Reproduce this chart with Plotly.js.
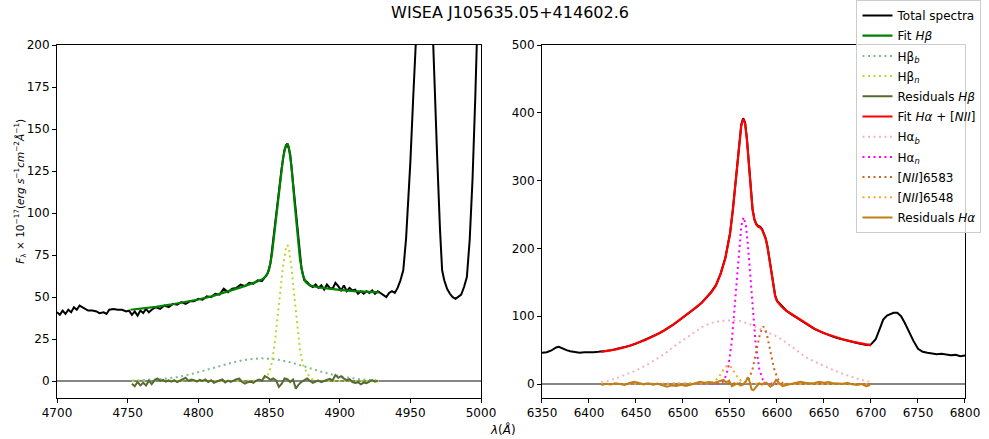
<!DOCTYPE html>
<html>
<head>
<meta charset="utf-8">
<script src="https://cdn.plot.ly/plotly-3.0.1.min.js"></script>
<style>html,body{margin:0;padding:0;background:#fff;}#chart{width:989px;height:439px;}</style>
</head>
<body>
<div id="chart"></div>
<script>
// ---------- Left panel (H-beta region) ----------
var specLx = [4700,4702,4704,4706,4708,4710,4712,4714,4716,4718,
 4720,4722,4725,4728,4730,4733,4735,4737,4740,4743,
 4746,4749,4751,4753,4755,4757,4759,4761,4763,4765,
 4767,4770,4773,4776,4779,4782,4785,4788,4791,4794,
 4797,4800,4803,4806,4809,4812,4815,4818,4821,4824,
 4827,4830,4833,4836,4839,4842,4845,4847,4849,4851,
 4853,4855,4857,4859,4861,4863,4865,4867,4869,4871,
 4873,4875,4877,4879,4881,4883,4885,4887,4889,4891,
 4893,4895,4897,4899,4901,4903,4905,4907,4909,4911,
 4913,4915,4917,4919,4921,4923,4925,4927,4929,4931,
 4933,4935,4937,4939,4941,4943,4945,4947,4948,4950,
 4952,4954,4956,4958,4960,4962,4964,4966,4967,4969,
 4971,4972.5,4974,4976,4978,4980,4982,4984,4986,4988,
 4990,4992,4994,4996,4998,5000];
var specLy = [41,39.5,42,40,42.5,41,44,42.5,45,44,
 43,42,42,41.5,40.5,41,40,42.5,43,42.5,
 42.5,41.5,42,39.5,41.5,39,42,40.5,43,41,
 42.5,44,43,45,44,46,45.5,47,46,47.5,
 47.5,49,48.5,50.5,50,52,51.5,55,53,55,
 55.5,57.5,56.5,58.5,58,60,59.5,61.5,64,70,
 84,99,114,127,138,141.5,135,118,97,80,
 67,60,59,57,56,57.5,55.5,57,54.5,57.5,
 55.5,55,58.5,56.5,54,57,53.5,55.5,54,54.5,
 52,53.5,52,53.5,52.5,54,52,53.5,52.5,51,
 50,52.5,53.5,52.5,55.5,60,66,85,100,130,
 168,200,245,290,310,300,262,205,178,133,
 90,66,60,55,52,50,49,50,51.5,56,
 62,84,120,170,230,290];

var fitHbX = [4752,4760,4770,4780,4790,4800,4810,4820,4830,4840,
 4845,4848,4850,4852,4854,4856,4858,4860,4862,4863,
 4864,4866,4868,4870,4872,4874,4876,4878,4880,4885,
 4890,4900,4910,4920,4928];
var fitHbY = [42.5,43.2,44.2,45.5,47,48.6,50.6,53,55.8,58.8,
 60.5,62.5,66,75,89,105,120,133,140.5,141,
 139.5,127,107,88,72,63,59,57.5,56.8,55.8,
 55.2,54.3,53.6,53.1,52.8];

var hbBroadX = [4753,4765,4775,4785,4795,4805,4815,4825,4835,4845,4855,4865,4875,4885,4895,4905,4915,4928];
var hbBroadY = [0.3,0.7,1.3,2.4,4.2,6.6,9,11.3,13,13.6,13,11.3,8.8,6.1,3.9,2.2,1.1,0.4];

var hbNarrowX = [4753,4840,4845,4848,4850,4852,4854,4856,4858,4860,
 4862,4863,4864,4866,4868,4870,4872,4874,4877,4880,
 4885,4928];
var hbNarrowY = [0,0.2,0.8,2.5,5,11,22,37,54,69,
 79,81,79.5,67,50,32,18,10,4.5,1.5,
 0.2,0];

var resHbX = [4753,4755,4757,4759,4761,4763,4765,4767,4769,4771,
 4773,4775,4777,4779,4781,4783,4785,4787,4789,4791,
 4793,4795,4797,4799,4801,4803,4805,4807,4809,4811,
 4813,4815,4817,4819,4821,4823,4825,4827,4829,4831,
 4833,4835,4837,4839,4841,4843,4845,4847,4849,4851,
 4853,4855,4857,4859,4861,4863,4865,4867,4869,4871,
 4873,4875,4877,4879,4881,4883,4885,4887,4889,4891,
 4893,4895,4897,4899,4901,4903,4905,4907,4909,4911,
 4913,4915,4917,4919,4921,4923,4925,4927];
var resHbY = [-1.5,-3,-0.5,-2.5,-1,-2.5,0.3,-1.8,0.5,1.6,
 0.2,0.8,-0.2,0.5,-0.3,0.6,-0.5,0.3,1,2,
 0.2,1,0.6,-0.3,0.8,0.2,1,-0.5,0.5,-1,
 -0.2,0.6,1,-0.8,0.3,-0.4,0.5,1.2,1.6,-0.5,
 -1.4,-0.6,-0.3,-1,0.4,1,0.3,3,2.2,0.8,
 1.6,0.5,-3.4,-1.5,1.6,1.2,-0.5,1,-4.4,-2,
 -0.4,0.5,1.6,0.3,-1,-0.2,0.4,-0.5,0.2,0.8,
 1.4,0.5,3.6,2,3,1.5,0.6,1.2,-0.5,-1,
 -0.6,-1.8,-0.8,-1.2,-0.4,0.6,-0.3,0.2];

// ---------- Right panel (H-alpha + [NII] region) ----------
var specRx = [6350,6355,6360,6365,6368,6372,6376,6380,6385,6390,
 6395,6400,6405,6410,6415,6420,6425,6430,6435,6440,
 6445,6450,6455,6460,6465,6470,6475,6480,6485,6490,
 6495,6500,6505,6510,6515,6520,6525,6530,6535,6540,
 6545,6550,6553,6556,6558,6560,6562,6564,6566,6568,
 6570,6572,6574,6576,6578,6580,6582,6584,6586,6588,
 6590,6592,6594,6596,6598,6600,6603,6606,6610,6615,
 6620,6625,6630,6635,6640,6645,6650,6655,6660,6665,
 6670,6675,6680,6685,6690,6695,6700,6705,6710,6713,
 6717,6720,6724,6728,6732,6736,6740,6745,6750,6755,
 6760,6765,6770,6775,6780,6785,6790,6795,6800];
var specRy = [46,47,49.5,54,55,52,50,48.5,47,46,
 47,46.5,47,47.5,48,49,50,52,53.5,55.5,
 57,59.5,62.5,65,68,71.5,75,79,83,88,
 93,98,103,109,114,120,128,136,146,163,
 186,222,257,300,330,360,383,392,386,362,
 330,290,258,243,236,233,232,229,223,215,
 202,185,165,145,131,123,118,113,108,103,
 98.5,94.5,89,85,81,78,75,72,69.5,67.5,
 65.5,63.5,62,60.5,59,57.5,58.5,66,84,95,
 101,103,105,105,100,90,78,64,52,47.5,
 46,45,44,44.5,43,42.5,43,41,42];

var fitHaX = [6413,6420,6430,6440,6450,6460,6470,6480,6490,6500,
 6510,6520,6525,6530,6535,6540,6545,6550,6553,6556,
 6558,6560,6562,6564,6566,6568,6570,6572,6574,6576,
 6578,6580,6582,6584,6586,6588,6590,6592,6594,6596,
 6598,6600,6605,6610,6620,6630,6640,6650,6660,6670,
 6680,6690,6700];
var fitHaY = [47.5,49,51.5,55,59.5,65,71.5,79,88,98,
 109,120,127,135,145,162,185,221,256,298,
 329,359,381,391,385,360,329,289,257,242,
 235,232,231,228,222,214,201,184,164,144,
 130,122,114,108,99,89.5,81.5,75,70,66,
 62.5,59.5,57];

var haBroadX = [6413,6420,6430,6440,6450,6460,6470,6480,6490,6500,
 6510,6520,6530,6540,6553,6560,6570,6580,6590,6600,
 6610,6620,6630,6640,6650,6660,6670,6680,6690,6700];
var haBroadY = [3,4.5,9,14,20,27,35,44,55,65,
 75,84,90,93,94,93,89,83,77,70,
 61,50,40,33,26.5,20.5,15,10,6,3];

var haNarrowX = [6413,6530,6540,6544,6548,6552,6556,6560,6562,6564.5,
 6567,6569,6573,6577,6581,6585,6589,6600,6700];
var haNarrowY = [0,0.1,1.4,6,23,64,132,206,233,246,
 233,206,132,64,23,6,1.4,0.05,0];

var nii6583X = [6413,6560,6565,6570,6574,6578,6582,6585.5,6589,6593,6597,6601,6606,6612,6700];
var nii6583Y = [0,0.1,1.2,7,22,48,75,85,75,48,22,7,1.2,0.1,0];

var nii6548X = [6413,6525,6530,6534,6538,6542,6545,6548,6551,6554,6558,6562,6566,6571,6700];
var nii6548Y = [0,0.3,1.8,4.7,10,19,25,28,25,19,10,4.7,1.8,0.3,0];

var resHaX = [6413,6418,6423,6428,6433,6438,6443,6448,6453,6458,
 6463,6468,6473,6478,6483,6488,6493,6498,6503,6508,
 6513,6518,6523,6528,6533,6538,6543,6546,6549,6552,
 6555,6558,6561,6564,6567,6569,6571,6573,6575,6578,
 6581,6584,6587,6590,6593,6596,6599,6602,6606,6610,
 6615,6620,6625,6630,6635,6640,6645,6650,6655,6660,
 6665,6670,6675,6680,6685,6690,6695,6699];
var resHaY = [-1.5,0.5,-0.5,1,0,-1.2,1.5,3.4,1.5,-0.5,
 1,-1,0.5,-1.5,-4,-2,-3,-1,-3,-1,
 1,3.4,2,3,1.5,4,6,2.5,5,-3,
 -1,1,-2,-1,4,10,3,-8,-9,-4,
 1,-1,2,0,-4,-1,6,2,-3,-1.5,
 0.5,2,3.4,2,1,1.5,3.4,2,3,1,
 1,0.5,2,-0.5,-1.5,0,-3,-1.5];

var legendNames = ["Total spectra", "Fit <i>Hβ</i>", "Hβ<sub><i>b</i></sub>", "Hβ<sub><i>n</i></sub>",
 "Residuals <i>Hβ</i>", "Fit <i>Hα</i> + [<i>NII</i>]", "Hα<sub><i>b</i></sub>", "Hα<sub><i>n</i></sub>",
 "[<i>NII</i>]6583", "[<i>NII</i>]6548", "Residuals <i>Hα</i>"];

var DOT = "2px,3.5px";
var gcount = 0;
function tr(x, y, name, color, width, dash, xa, ya, showleg) {
  gcount += 1;
  return {x: x, y: y, type: "scatter", mode: "lines", name: name,
    legendgroup: "g" + gcount,
    line: {color: color, width: width, dash: dash || "solid", shape: "linear"},
    xaxis: xa, yaxis: ya, showlegend: showleg, hoverinfo: "skip"};
}

var traces = [
  tr(specLx, specLy, legendNames[0], "#000000", 2, null, "x", "y", true),
  tr(fitHbX, fitHbY, legendNames[1], "#008000", 2.2, null, "x", "y", true),
  tr(hbBroadX, hbBroadY, legendNames[2], "#7dbb8c", 2, DOT, "x", "y", true),
  tr(hbNarrowX, hbNarrowY, legendNames[3], "#bfd630", 2, DOT, "x", "y", true),
  tr(resHbX, resHbY, legendNames[4], "#556b2f", 2, null, "x", "y", true),
  tr(specRx, specRy, legendNames[0], "#000000", 2, null, "x2", "y2", false),
  tr(fitHaX, fitHaY, legendNames[5], "#ff0000", 2.2, null, "x2", "y2", true),
  tr(haBroadX, haBroadY, legendNames[6], "#f5b3bf", 2, DOT, "x2", "y2", true),
  tr(haNarrowX, haNarrowY, legendNames[7], "#ff00ff", 2, DOT, "x2", "y2", true),
  tr(nii6583X, nii6583Y, legendNames[8], "#cc661e", 2, DOT, "x2", "y2", true),
  tr(nii6548X, nii6548Y, legendNames[9], "#ffaa22", 2, DOT, "x2", "y2", true),
  tr(resHaX, resHaY, legendNames[10], "#c07f14", 2, null, "x2", "y2", true)
];

var FONT = "DejaVu Sans";
function xax(dom, rng, anchor) {
  return {domain: dom, range: rng, anchor: anchor, dtick: 50, tick0: rng[0],
    ticks: "outside", ticklen: 4, tickwidth: 1, tickcolor: "#000",
    showline: true, linecolor: "#000", linewidth: 1, mirror: true,
    showgrid: false, zeroline: false, tickfont: {family: FONT, size: 12, color: "#000"}};
}
function yax(rng, dt, anchor) {
  return {domain: [0, 1], range: rng, anchor: anchor, dtick: dt, tick0: 0,
    ticks: "outside", ticklen: 4, tickwidth: 1, tickcolor: "#000",
    showline: true, linecolor: "#000", linewidth: 1, mirror: true,
    showgrid: false, zeroline: true, zerolinecolor: "#868686", zerolinewidth: 2,
    tickfont: {family: FONT, size: 12, color: "#000"}};
}

var layout = {
  width: 989, height: 439,
  margin: {l: 57, r: 24, t: 45, b: 41, pad: 0, autoexpand: false},
  paper_bgcolor: "#fff", plot_bgcolor: "#fff",
  font: {family: FONT, size: 12, color: "#000"},
  title: {text: "WISEA J105635.05+414602.6", font: {family: FONT, size: 16, color: "#000"},
    xref: "container", x: 0.5157, xanchor: "center", yref: "container", y: 0.972, yanchor: "middle",
    automargin: false},
  xaxis: xax([0, 0.46696], [4700, 5000], "y"),
  yaxis: yax([-10, 200], 25, "x"),
  xaxis2: xax([0.53414, 1], [6350, 6800], "y2"),
  yaxis2: yax([-20.6, 500], 100, "x2"),
  showlegend: true,
  legend: {x: 0.8805, xanchor: "left", y: 1.1275, yanchor: "top", maxheight: 400,
    bgcolor: "rgba(255,255,255,0.8)", bordercolor: "#cccccc", borderwidth: 1,
    font: {family: FONT, size: 12, color: "#000"}, traceorder: "grouped", tracegroupgap: 1.2},
  annotations: [
    {text: "<i>F</i><sub>λ</sub> × 10<sup>−17</sup>(<i>erg s</i><sup>−1</sup><i>cm</i><sup>−2</sup><i>Å</i><sup>−1</sup>)",
     xref: "paper", yref: "paper", x: -0.0408, y: 0.587, xanchor: "center", yanchor: "middle",
     textangle: -90, showarrow: false, font: {family: FONT, size: 10.5, color: "#000"}},
    {text: "<i>λ</i>(<i>Å</i>)", xref: "paper", yref: "paper", x: 0.491, y: -0.088,
     xanchor: "center", yanchor: "middle", showarrow: false, font: {family: FONT, size: 12, color: "#000"}}
  ]
};

Plotly.newPlot("chart", traces, layout, {staticPlot: true, displayModeBar: false});
</script>
</body>
</html>
